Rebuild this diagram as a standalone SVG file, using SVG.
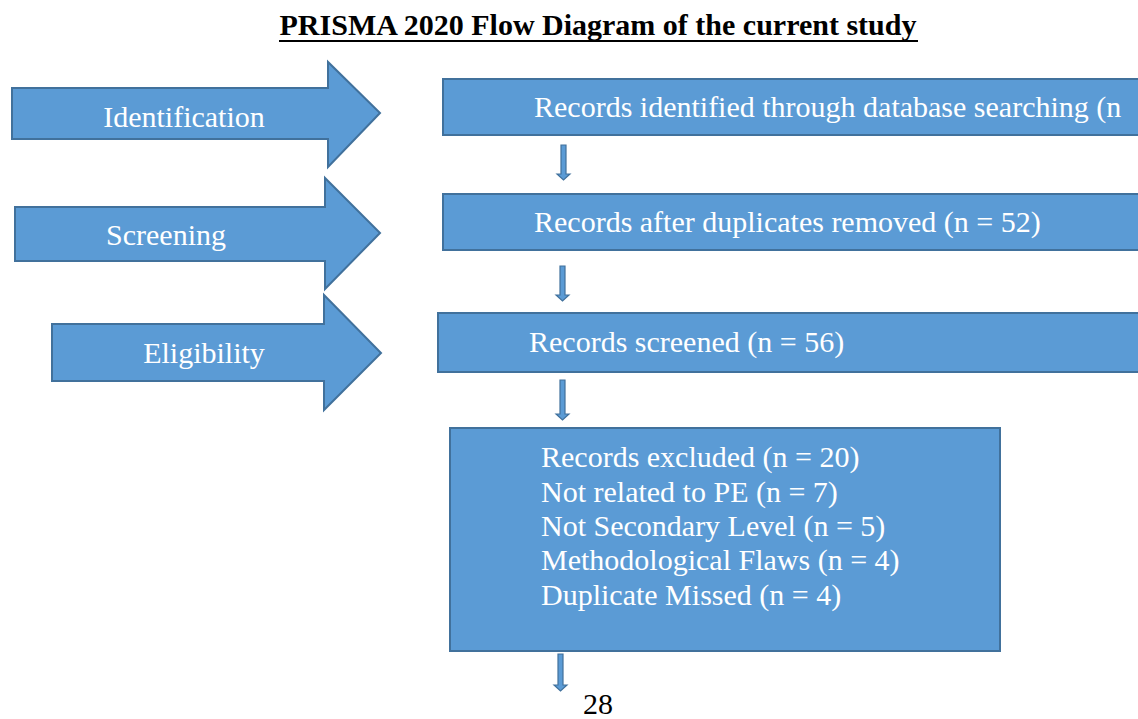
<svg xmlns="http://www.w3.org/2000/svg" width="1138" height="719" viewBox="0 0 1138 719">
<style>
.blk{fill:#5B9BD5;stroke:#41719C;stroke-width:2}
.dn{fill:#5B9BD5;stroke:#41719C;stroke-width:1.2}
text{font-family:'Times New Roman','Liberation Serif','DejaVu Serif',serif;font-size:30px}
.wt{fill:#ffffff}
.bk{fill:#000000}
</style>
<rect width="1138" height="719" fill="#ffffff"/>
<g id="title">
<text class="bk" x="598" y="35" text-anchor="middle" font-weight="bold">PRISMA 2020 Flow Diagram of the current study</text>
<rect x="279" y="40" width="639" height="2" fill="#000"/>
</g>
<g id="stage-identification">
<polygon class="blk" points="12,88 328,88 328,62 380,113 328,167 328,139 12,139"/>
<text class="wt" x="184" y="127" text-anchor="middle">Identification</text>
</g>
<g id="stage-screening">
<polygon class="blk" points="15,207 325,207 325,178 380,233 325,289 325,261 15,261"/>
<text class="wt" x="166" y="245" text-anchor="middle">Screening</text>
</g>
<g id="stage-eligibility">
<polygon class="blk" points="52,324 324,324 324,295 381,353 324,410 324,381 52,381"/>
<text class="wt" x="204" y="363" text-anchor="middle">Eligibility</text>
</g>
<g id="box-identified">
<rect class="blk" x="443" y="79" width="710" height="56"/>
<text class="wt" x="534" y="117">Records identified through database searching (n</text>
</g>
<g id="box-duplicates">
<rect class="blk" x="443" y="194" width="710" height="56"/>
<text class="wt" x="534" y="232">Records after duplicates removed (n = 52)</text>
</g>
<g id="box-screened">
<rect class="blk" x="438" y="313" width="715" height="59"/>
<text class="wt" x="529" y="352">Records screened (n = 56)</text>
</g>
<g id="box-excluded">
<rect class="blk" x="450" y="428" width="550" height="223"/>
<text class="wt" x="541" y="467">Records excluded (n = 20)</text>
<text class="wt" x="541" y="502">Not related to PE (n = 7)</text>
<text class="wt" x="541" y="536">Not Secondary Level (n = 5)</text>
<text class="wt" x="541" y="570">Methodological Flaws (n = 4)</text>
<text class="wt" x="541" y="605">Duplicate Missed (n = 4)</text>
</g>
<g id="result">
<text class="bk" x="598" y="714" text-anchor="middle">28</text>
</g>
<g id="connectors">
<polygon class="dn" points="561,145 566,145 566,174 570,174 563.5,180 557,174 561,174"/>
<polygon class="dn" points="560,266 565,266 565,295 569,295 562.5,301 556,295 560,295"/>
<polygon class="dn" points="560,380 565,380 565,414 569,414 562.5,420 556,414 560,414"/>
<polygon class="dn" points="558,654 563,654 563,685 567,685 560.5,691 554,685 558,685"/>
</g>
</svg>
